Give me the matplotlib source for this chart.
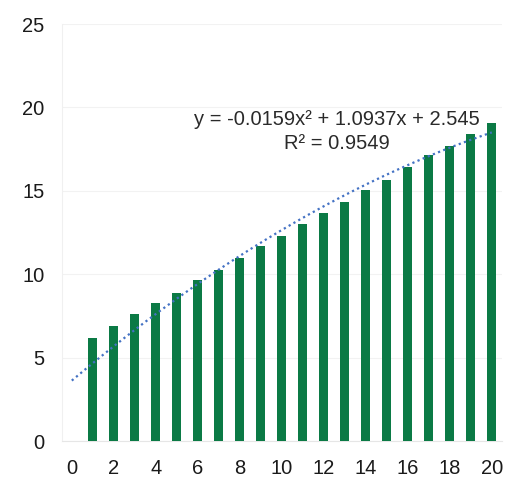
import numpy as np
import matplotlib
matplotlib.use("Agg")
import matplotlib.pyplot as plt

# bar values
x_vals = list(range(1, 21))
y_vals = [6.2, 6.9, 7.6, 8.25, 8.9, 9.65, 10.25, 11.0, 11.7, 12.3,
          13.0, 13.65, 14.35, 15.05, 15.65, 16.4, 17.15, 17.7, 18.4, 19.05]

# trendline as labelled on the chart
trend_coef = [-0.0159, 1.0937, 2.545]
eq_label = "y = -0.0159x² + 1.0937x + 2.545"
r2_label = "R² = 0.9549"
x_ticks = list(range(0, 21, 2))
y_ticks = [0, 5, 10, 15, 20, 25]

plt.rcParams['font.family'] = ['Liberation Sans', 'DejaVu Sans']

fig = plt.figure(figsize=(5.11, 4.84), dpi=100)
ax = fig.add_axes([0.122, 0.0888, 0.861, 0.8616])

ax.bar(x_vals, y_vals, width=0.42, color='#0b7a45', zorder=3)

# excel draws the trendline against the category index (offset by one)
tx = np.linspace(0, 20, 200)
ax.plot(tx, np.polyval(trend_coef, tx + 1), linestyle=(0, (1, 1.5)),
        color='#4472c4', linewidth=1.6, zorder=4)

ax.text(12.6, 19.25, eq_label, ha='center', va='center',
        fontsize=14.5, color='#2a2a2a')
ax.text(12.6, 17.85, r2_label, ha='center', va='center',
        fontsize=14.5, color='#2a2a2a')

ax.set_xlim(-0.45, 20.5)
ax.set_ylim(0, 25)
ax.set_xticks(x_ticks)
ax.set_yticks(y_ticks)
ax.tick_params(length=0, labelsize=14.5, labelcolor='#1a1a1a')
ax.tick_params(axis='x', pad=13)
ax.tick_params(axis='y', pad=13)
ax.grid(axis='y', color='#f2f2f2', linewidth=0.8, zorder=0)
for s in ['top', 'right']:
    ax.spines[s].set_visible(False)
ax.spines['left'].set_color('#f0f0f0')
ax.spines['bottom'].set_color('#e6e6e6')

fig.savefig("out.png", dpi=100)
